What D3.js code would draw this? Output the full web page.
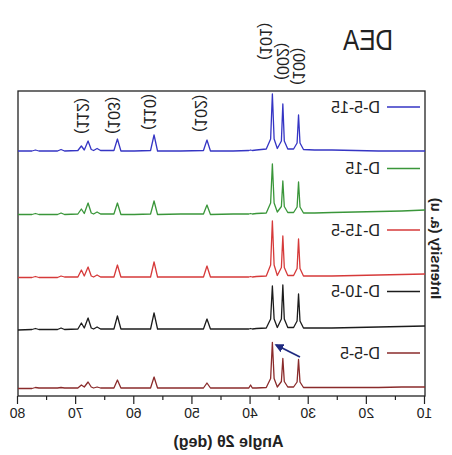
<!DOCTYPE html>
<html>
<head>
<meta charset="utf-8">
<script src="https://cdn.jsdelivr.net/npm/d3@7"></script>
<style>
  body { margin: 0; background: #fff; }
  svg text { font-family: "Liberation Sans", Arial, Helvetica, sans-serif; }
</style>
</head>
<body>
<div id="chart"></div>
<script>
// 2theta values shared by every trace
var angles = [10, 14, 18, 22, 26, 29, 30.9, 31.5, 31.75, 32.0, 32.6,
  33.6, 34.2, 34.45, 34.7, 35.4, 35.95, 36.25, 36.55, 37.3, 39,
  39.7, 40, 40.3, 43, 46.9, 47.5, 48.1, 52, 56.0, 56.6,
  57.2, 60, 62.3, 62.9, 63.5, 65.8, 66.4, 67.0, 67.4, 67.95,
  68.6, 69.1, 69.7, 72, 72.6, 73.2, 76.4, 77, 77.6, 80];

var names = ["D-5-15", "D-15", "D-15-5", "D-10-5", "D-5-5"];
var colors = ["#3535c4", "#3a963a", "#d63a3a", "#1c1c1c", "#8a2b2b"];

// stacked intensities (a.u.)
var d515 = [245, 245, 245, 245.5, 246, 246, 246.5, 253, 281, 253, 247,
  247, 255, 292, 255, 247.5, 257, 302, 257, 247, 246,
  245.5, 246, 245.5, 245, 245, 256, 245.5, 245, 245, 261,
  245.5, 245, 245, 257, 245.5, 245.5, 247.5, 245.5, 246.5, 255,
  246, 250, 245.5, 245, 246.5, 245, 245, 246, 245, 245];
var d15 = [186, 185, 184.5, 184, 183.5, 183, 183, 189, 214, 189, 183.5,
  183.5, 189.5, 215, 189.5, 184, 193, 232, 193, 183, 182.5,
  182, 182.5, 182, 182, 181.5, 191, 182, 182, 181.5, 195,
  182, 181.5, 181.5, 193, 182, 182, 184, 182, 183, 193,
  182.5, 187, 182, 181.5, 183, 181.5, 181.5, 182.5, 181.5, 181.5];
var d155 = [122, 121.5, 121, 120.5, 120, 120, 120, 127.5, 157, 127.5, 120.5,
  120.5, 128.5, 160, 128.5, 120.5, 131, 175, 131, 120, 119.5,
  119, 119.5, 119, 119, 119, 130, 119, 119, 119, 134,
  119, 119, 119, 131, 119, 119, 121, 119, 120, 129,
  120, 126, 119, 119, 120, 118.5, 118.5, 119.5, 118.5, 118.5];
var d105 = [70, 69.5, 69, 68.5, 68, 68, 68, 75, 102, 75, 68.5,
  68.5, 77, 111, 77, 68.5, 77, 110, 77, 68, 67.5,
  67, 67.5, 67, 67, 67, 77, 67, 67, 67, 83,
  67, 67, 67, 80, 67, 67, 69, 67, 68, 78,
  68, 73, 67, 66.5, 68, 66.5, 66.5, 67.5, 66.5, 66];
var d55 = [9, 9, 8.5, 8.5, 8.5, 8.5, 8.5, 14, 36.5, 14, 9,
  9, 14.5, 37.5, 14.5, 9, 17.5, 53.5, 17.5, 8.5, 8,
  8, 11, 8, 8, 8, 13, 8, 8, 8, 19,
  8, 8, 8, 16, 8, 8, 9, 8, 9, 14,
  9, 11, 8, 8, 8.5, 8, 8, 8.5, 7.5, 7.5];
var seriesValues = [d515, d15, d155, d105, d55];

// peak labels
var hklNames = ["(100)", "(002)", "(101)", "(102)", "(110)", "(103)", "(112)"];
var hklAngles = [31.75, 34.45, 36.25, 47.5, 56.6, 62.9, 67.95];

var xTicks = [10, 20, 30, 40, 50, 60, 70, 80];
var xMinor = [15, 25, 35, 45, 55, 65, 75];

var FONT = "'Liberation Sans', Arial, Helvetica, sans-serif";
var W = 452, H = 455;
var margin = {top: 91, right: 18, bottom: 59, left: 27};
var width = W - margin.left - margin.right;
var height = H - margin.top - margin.bottom;

var svg = d3.select("#chart").append("svg")
  .attr("width", W).attr("height", H)
  .attr("font-family", FONT);

// the figure is shown mirrored left-right
var root = svg.append("g").attr("transform", "translate(" + W + ",0) scale(-1,1)");
var g = root.append("g").attr("transform", "translate(" + margin.left + "," + margin.top + ")");

var x = d3.scaleLinear().domain([10, 80]).range([0, width]);
var y = d3.scaleLinear().domain([0, 305]).range([height, 0]);

// axes
var xAxis = g.append("g").attr("transform", "translate(0," + height + ")")
  .call(d3.axisBottom(x).tickValues(xTicks).tickSize(8).tickPadding(4));
xAxis.attr("font-family", FONT);
xAxis.select(".domain").remove();
xAxis.selectAll("line").attr("stroke", "#222").attr("stroke-width", 1.2);
xAxis.selectAll("text").attr("font-size", 14).attr("fill", "#222");

var xAxisMinor = g.append("g").attr("transform", "translate(0," + height + ")")
  .call(d3.axisBottom(x).tickValues(xMinor).tickSize(4).tickFormat(""));
xAxisMinor.select(".domain").remove();
xAxisMinor.selectAll("line").attr("stroke", "#222").attr("stroke-width", 1.2);

// frame
g.append("rect").attr("width", width).attr("height", height)
  .attr("fill", "none").attr("stroke", "#222").attr("stroke-width", 1.3);

// traces
var line = d3.line().x(function(d) { return x(d[0]); }).y(function(d) { return y(d[1]); });
seriesValues.forEach(function(vals, i) {
  var pts = angles.map(function(a, j) { return [a, vals[j]]; });
  g.append("path").datum(pts)
    .attr("d", line)
    .attr("fill", "none")
    .attr("stroke", colors[i])
    .attr("stroke-width", 1.3)
    .attr("stroke-linejoin", "round");
});

// legend
names.forEach(function(n, i) {
  var ly = 16 + i * 61.5;
  g.append("line").attr("x1", 5).attr("x2", 38).attr("y1", ly).attr("y2", ly)
    .attr("stroke", colors[i]).attr("stroke-width", 1.3);
  g.append("text").attr("x", 45).attr("y", ly).attr("dy", "0.36em")
    .attr("font-size", 16).attr("fill", "#222").text(n);
});

// peak labels, rotated
var labelBottom = [85, 80, 60, 132, 130, 134, 134];
var labelShift = [0, 0, 7, 6, 4, 4, 5];
hklNames.forEach(function(t, i) {
  var lx = margin.left + x(hklAngles[i]) + labelShift[i];
  var ly = labelBottom[i];
  root.append("text")
    .attr("transform", "translate(" + lx + "," + ly + ") rotate(-90)")
    .attr("dy", "0.36em")
    .attr("font-size", 16)
    .attr("fill", "#222")
    .text(t);
});

// arrow marking the peak shift
var defs = svg.append("defs");
defs.append("marker").attr("id", "arr").attr("viewBox", "0 0 10 10")
  .attr("refX", 8).attr("refY", 5).attr("markerWidth", 5).attr("markerHeight", 5)
  .attr("orient", "auto")
  .append("path").attr("d", "M0,0 L10,5 L0,10 z").attr("fill", "#1f2a80");
g.append("line")
  .attr("x1", x(31.5)).attr("y1", y(39))
  .attr("x2", x(35.6)).attr("y2", y(51))
  .attr("stroke", "#1f2a80").attr("stroke-width", 1.8)
  .attr("marker-end", "url(#arr)");

// titles
root.append("text").attr("x", margin.left + width / 2 - 7).attr("y", 447)
  .attr("text-anchor", "middle").attr("font-size", 16).attr("font-weight", "bold")
  .attr("fill", "#222").text("Angle 2\u03b8 (deg)");

root.append("text")
  .attr("transform", "translate(16," + (margin.top + height / 2 + 5) + ") rotate(-90)")
  .attr("text-anchor", "middle").attr("dy", "0.36em")
  .attr("font-size", 15).attr("font-weight", "bold")
  .attr("fill", "#222").text("Intensity (a. u)");

root.append("text").attr("x", 59).attr("y", 50)
  .attr("font-size", 30).attr("textLength", 50).attr("lengthAdjust", "spacingAndGlyphs")
  .attr("fill", "#222").text("DEA");
</script>
</body>
</html>
